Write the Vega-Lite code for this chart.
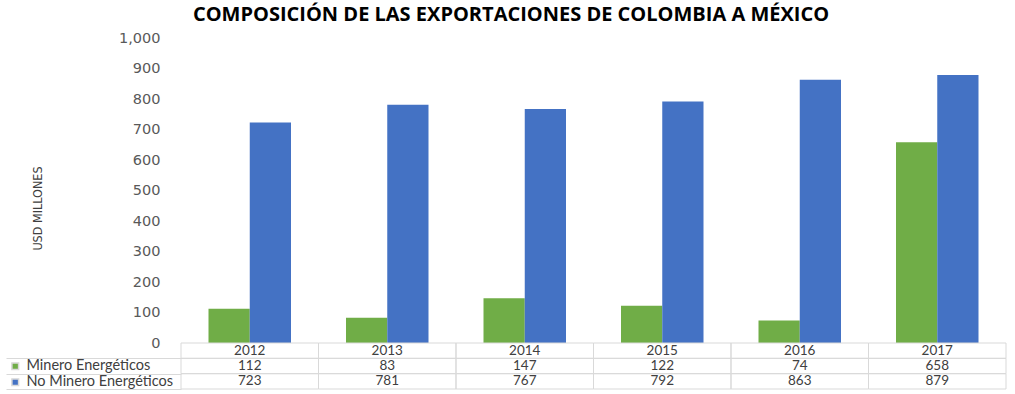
{
  "$schema": "https://vega.github.io/schema/vega-lite/v6.json",
  "title": {"text": "COMPOSICIÓN DE LAS EXPORTACIONES DE COLOMBIA A MÉXICO", "font": "Open Sans", "fontSize": 20, "fontWeight": "bold", "color": "#000000", "anchor": "middle", "offset": 5, "dx": 5},
  "padding": {"left": 5, "top": 5, "right": 10, "bottom": 5},
  "spacing": 0,
  "bounds": "flush",
  "data": {"values": [
    {"year": "2012", "serie": "Minero Energéticos", "value": 112},
    {"year": "2013", "serie": "Minero Energéticos", "value": 83},
    {"year": "2014", "serie": "Minero Energéticos", "value": 147},
    {"year": "2015", "serie": "Minero Energéticos", "value": 122},
    {"year": "2016", "serie": "Minero Energéticos", "value": 74},
    {"year": "2017", "serie": "Minero Energéticos", "value": 658},
    {"year": "2012", "serie": "No Minero Energéticos", "value": 723},
    {"year": "2013", "serie": "No Minero Energéticos", "value": 781},
    {"year": "2014", "serie": "No Minero Energéticos", "value": 767},
    {"year": "2015", "serie": "No Minero Energéticos", "value": 792},
    {"year": "2016", "serie": "No Minero Energéticos", "value": 863},
    {"year": "2017", "serie": "No Minero Energéticos", "value": 879}
  ]},
  "resolve": {"scale": {"x": "independent", "y": "independent", "color": "independent"}, "legend": {"color": "independent"}},
  "vconcat": [
    {
      "width": 825,
      "height": 305,
      "mark": {"type": "bar"},
      "encoding": {
        "x": {"field": "year", "type": "nominal", "axis": null, "scale": {"paddingInner": 0.4, "paddingOuter": 0.2}},
        "xOffset": {"field": "serie", "type": "nominal", "sort": ["Minero Energéticos", "No Minero Energéticos"], "scale": {"paddingInner": 0}},
        "y": {"field": "value", "type": "quantitative", "scale": {"domain": [0, 1000], "nice": false},
          "axis": {"values": [0, 100, 200, 300, 400, 500, 600, 700, 800, 900, 1000], "format": ",d", "grid": false, "domain": false, "ticks": false,
            "labelFont": "DejaVu Sans", "labelFontSize": 14.5, "labelColor": "#595959", "labelPadding": 21,
            "title": "USD MILLONES", "titleFont": "DejaVu Sans Condensed", "titleFontSize": 12.5, "titleFontWeight": "normal", "titleColor": "#404040", "titlePadding": 74, "titleY": 170}},
        "color": {"field": "serie", "type": "nominal", "scale": {"domain": ["Minero Energéticos", "No Minero Energéticos"], "range": ["#70AD47", "#4472C4"]}, "legend": null}
      }
    },
    {
      "width": 825,
      "height": 46,
      "encoding": {
        "x": {"field": "year", "type": "nominal", "axis": null, "scale": {"paddingInner": 0, "paddingOuter": 0}}
      },
      "layer": [
        {
          "mark": {"type": "rect", "fillOpacity": 0, "stroke": "#d9d9d9", "strokeWidth": 1},
          "encoding": {
            "y": {"field": "serie", "type": "nominal", "scale": {"domain": ["hdr", "Minero Energéticos", "No Minero Energéticos"], "paddingInner": 0, "paddingOuter": 0},
              "axis": {"title": null, "labels": false, "domain": false, "ticks": true, "tickBand": "extent", "tickSize": -175, "offset": 175, "tickColor": "#d9d9d9", "values": ["Minero Energéticos", "No Minero Energéticos"]}},
            "color": {"field": "serie", "type": "nominal", "scale": {"domain": ["Minero Energéticos", "No Minero Energéticos"], "range": ["#70AD47", "#4472C4"]},
              "legend": {"orient": "none", "legendX": -173, "legendY": 16, "title": null, "symbolType": "square", "symbolSize": 45, "labelFont": "Lato", "labelFontSize": 14.5, "labelColor": "#404040", "rowPadding": 1, "labelOffset": 4,
                "encode": {"symbols": {"update": {"fillOpacity": {"value": 1}, "strokeWidth": {"value": 0}}}}}}
          }
        },
        {
          "transform": [{"filter": "datum.serie === 'Minero Energéticos'"}],
          "mark": {"type": "rect", "fill": "white", "fillOpacity": 0, "stroke": "#d9d9d9", "strokeWidth": 1},
          "encoding": {"y": {"datum": "hdr"}}
        },
        {
          "mark": {"type": "text", "font": "Lato", "fontSize": 13.5, "color": "#404040"},
          "encoding": {"y": {"field": "serie", "type": "nominal"}, "text": {"field": "value", "type": "quantitative"}}
        },
        {
          "transform": [{"filter": "datum.serie === 'Minero Energéticos'"}],
          "mark": {"type": "text", "font": "Lato", "fontSize": 13.5, "color": "#404040"},
          "encoding": {"y": {"datum": "hdr"}, "text": {"field": "year", "type": "nominal"}}
        }
      ]
    }
  ],
  "config": {"view": {"stroke": null}, "background": "white"}
}
